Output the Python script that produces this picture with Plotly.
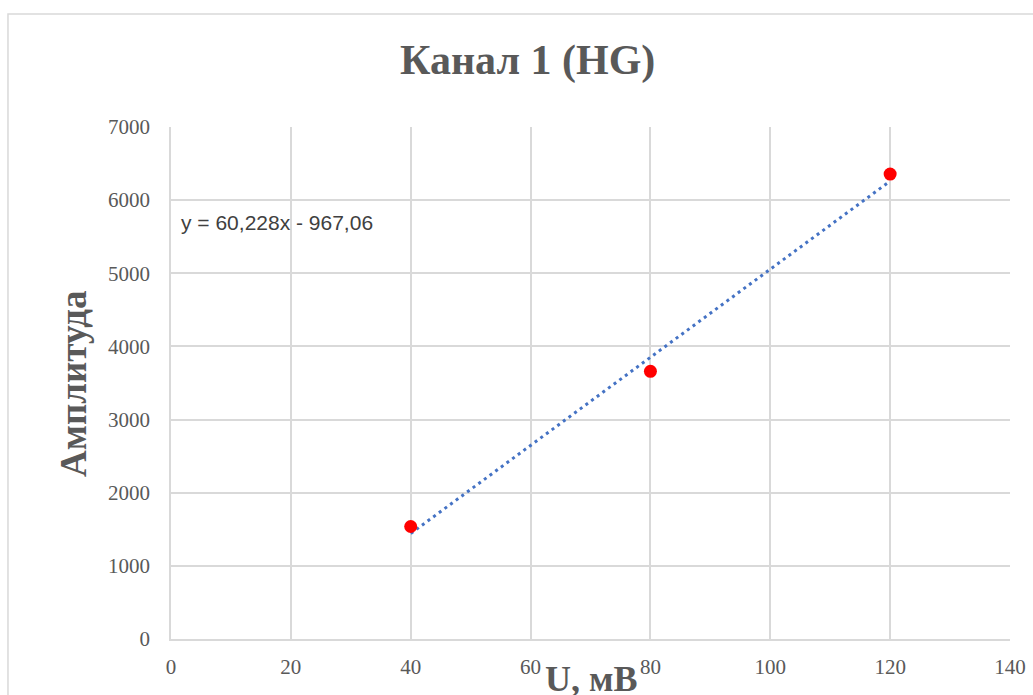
import plotly.graph_objects as go

# Measured points: voltage (mV) vs amplitude
u_mv = [40, 80, 120]
amplitude = [1538, 3660, 6356]

# Linear trend coefficients (as shown in the equation label)
slope = 60.228
intercept = -967.06
trend_x = [40, 120]
trend_y = [slope * x + intercept for x in trend_x]

x_ticks = [0, 20, 40, 60, 80, 100, 120, 140]
y_ticks = [0, 1000, 2000, 3000, 4000, 5000, 6000, 7000]

serif = "Liberation Serif"
grey = "#595959"
grid = "#d9d9d9"

fig = go.Figure()
fig.add_trace(go.Scatter(
    x=trend_x, y=trend_y, mode="lines",
    line=dict(color="#4472C4", width=3, dash="3px,4px"),
    hoverinfo="skip", showlegend=False,
))
fig.add_trace(go.Scatter(
    x=u_mv, y=amplitude, mode="markers",
    marker=dict(color="#ff0000", size=13),
    showlegend=False,
))

fig.update_layout(
    width=1033, height=695,
    paper_bgcolor="white", plot_bgcolor="white",
    margin=dict(l=171, r=23, t=127, b=56),
    xaxis=dict(
        range=[0, 140], tickvals=x_ticks, showgrid=True, gridcolor=grid,
        gridwidth=1.5, zeroline=False, showline=True, linecolor=grid,
        linewidth=1.5, ticks="", ticklabelstandoff=8, automargin=False,
        tickfont=dict(family=serif, size=21, color=grey),
    ),
    yaxis=dict(
        range=[0, 7000], tickvals=y_ticks, showgrid=True, gridcolor=grid,
        gridwidth=1.5, zeroline=False, showline=True, linecolor=grid,
        linewidth=1.5, ticks="", ticklabelstandoff=15, automargin=False,
        tickfont=dict(family=serif, size=21, color=grey),
    ),
    shapes=[dict(
        type="rect", xref="paper", yref="paper",
        x0=-0.1943, y0=-0.2, x1=1.2, y1=1.2207,
        line=dict(color=grid, width=1.5), fillcolor="rgba(0,0,0,0)",
        layer="below",
    )],
    annotations=[
        dict(
            text="Канал 1 (HG)", xref="paper", yref="paper",
            x=(527 - 171) / 839, y=(639 - 60) / 512,
            xanchor="center", yanchor="middle", showarrow=False,
            font=dict(family=serif, size=42, color=grey, weight="bold"),
        ),
        dict(
            text="y = 60,228x - 967,06", xref="paper", yref="paper",
            x=(179 - 171) / 839, y=(639 - 222) / 512,
            xanchor="left", yanchor="middle", showarrow=False,
            font=dict(family="Liberation Sans", size=21, color="#404040"),
        ),
        dict(
            text="U, мВ", xref="paper", yref="paper",
            x=(591 - 171) / 839, y=(639 - 679) / 512,
            xanchor="center", yanchor="middle", showarrow=False,
            font=dict(family=serif, size=36, color=grey, weight="bold"),
        ),
        dict(
            text="Амплитуда", xref="paper", yref="paper",
            x=(73 - 171) / 839, y=(639 - 384) / 512,
            xanchor="center", yanchor="middle", showarrow=False,
            textangle=-90,
            font=dict(family=serif, size=37, color=grey, weight="bold"),
        ),
    ],
)

fig.write_html("out.html")
